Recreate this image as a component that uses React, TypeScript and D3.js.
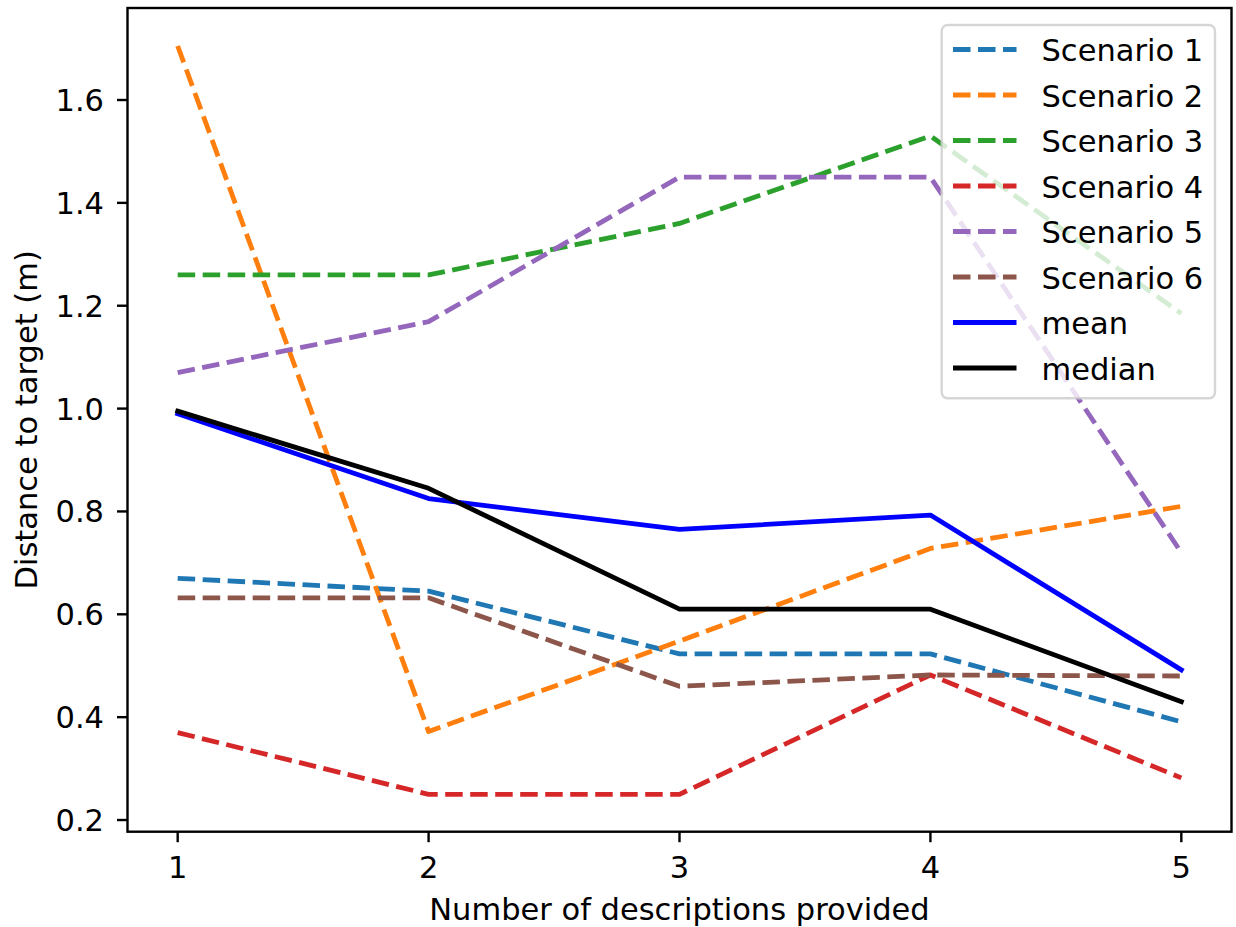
import React from 'react';
import * as d3 from 'd3';

const xValues = [1, 2, 3, 4, 5];
const scenario1 = [0.67, 0.645, 0.523, 0.523, 0.391];
const scenario2 = [1.705, 0.372, 0.548, 0.728, 0.81];
const scenario3 = [1.26, 1.26, 1.36, 1.53, 1.185];
const scenario4 = [0.37, 0.25, 0.25, 0.482, 0.282];
const scenario5 = [1.07, 1.169, 1.45, 1.45, 0.72];
const scenario6 = [0.632, 0.632, 0.46, 0.482, 0.48];
const meanValues = [0.99, 0.825, 0.765, 0.793, 0.492];
const medianValues = [0.995, 0.845, 0.61, 0.61, 0.43];

const seriesNames = ['Scenario 1', 'Scenario 2', 'Scenario 3', 'Scenario 4', 'Scenario 5', 'Scenario 6', 'mean', 'median'];
const seriesColors = ['#1f77b4', '#ff7f0e', '#2ca02c', '#d62728', '#9467bd', '#8c564b', '#0000ff', '#000000'];
const yTicks = [0.2, 0.4, 0.6, 0.8, 1.0, 1.2, 1.4, 1.6];

const W = 1236;
const H = 927;
const plot = { left: 127.5, right: 1231.5, top: 8, bottom: 831.7 };
const FONT = '"DejaVu Sans", sans-serif';
const FS = 30.5;
const LW = 4.8;
const DASH = '17.5,7.5';

export default function App() {
  const series = [scenario1, scenario2, scenario3, scenario4, scenario5, scenario6, meanValues, medianValues];

  const x = d3.scaleLinear().domain([0.8, 5.2]).range([plot.left, plot.right]);
  const y = d3.scaleLinear().domain([0.1773, 1.7789]).range([plot.bottom, plot.top]);

  const line = d3.line<number>()
    .x((_, i) => x(xValues[i]))
    .y(d => y(d));

  // legend box
  const lg = { x: 941.7, y: 25, w: 273.3, h: 373.3, row0: 49.5, step: 45.5 };

  return (
    <svg width={W} height={H} style={{ position: 'absolute', left: 0, top: 0, background: '#fff' }}
      fontFamily={FONT} fontSize={FS}>
      <rect x={0} y={0} width={W} height={H} fill="#fff" />

      {series.map((vals, i) => (
        <path key={seriesNames[i]} d={line(vals) || ''} fill="none" stroke={seriesColors[i]}
          strokeWidth={LW} strokeDasharray={i < 6 ? DASH : undefined} strokeLinejoin="round" strokeLinecap={i < 6 ? 'butt' : 'square'} />
      ))}

      {/* axes frame */}
      <rect x={plot.left} y={plot.top} width={plot.right - plot.left} height={plot.bottom - plot.top}
        fill="none" stroke="#000" strokeWidth={2.4} />

      {/* y ticks */}
      {yTicks.map(t => (
        <g key={t}>
          <line x1={plot.left - 10.5} x2={plot.left} y1={y(t)} y2={y(t)} stroke="#000" strokeWidth={2.4} />
          <text x={104} y={y(t) + 11} textAnchor="end" fill="#000">{t.toFixed(1)}</text>
        </g>
      ))}

      {/* x ticks */}
      {xValues.map(t => (
        <g key={t}>
          <line x1={x(t)} x2={x(t)} y1={plot.bottom} y2={plot.bottom + 10.5} stroke="#000" strokeWidth={2.4} />
          <text x={x(t)} y={878} textAnchor="middle" fill="#000">{t}</text>
        </g>
      ))}

      <text x={(plot.left + plot.right) / 2} y={920} textAnchor="middle" fill="#000">Number of descriptions provided</text>
      <text transform={`translate(37,${(plot.top + plot.bottom) / 2}) rotate(-90)`} textAnchor="middle" fill="#000">
        Distance to target (m)
      </text>

      {/* legend */}
      <rect x={lg.x} y={lg.y} width={lg.w} height={lg.h} rx={6} fill="#fff" fillOpacity={0.8}
        stroke="#cccccc" strokeOpacity={0.8} strokeWidth={2.4} />
      {seriesNames.map((name, i) => {
        const ly = lg.row0 + i * lg.step;
        return (
          <g key={name}>
            <line x1={953} x2={1016.5} y1={ly} y2={ly} stroke={seriesColors[i]} strokeWidth={LW}
              strokeDasharray={i < 6 ? DASH : undefined} />
            <text x={1041.5} y={ly + 11.5} fill="#000">{name}</text>
          </g>
        );
      })}
    </svg>
  );
}
